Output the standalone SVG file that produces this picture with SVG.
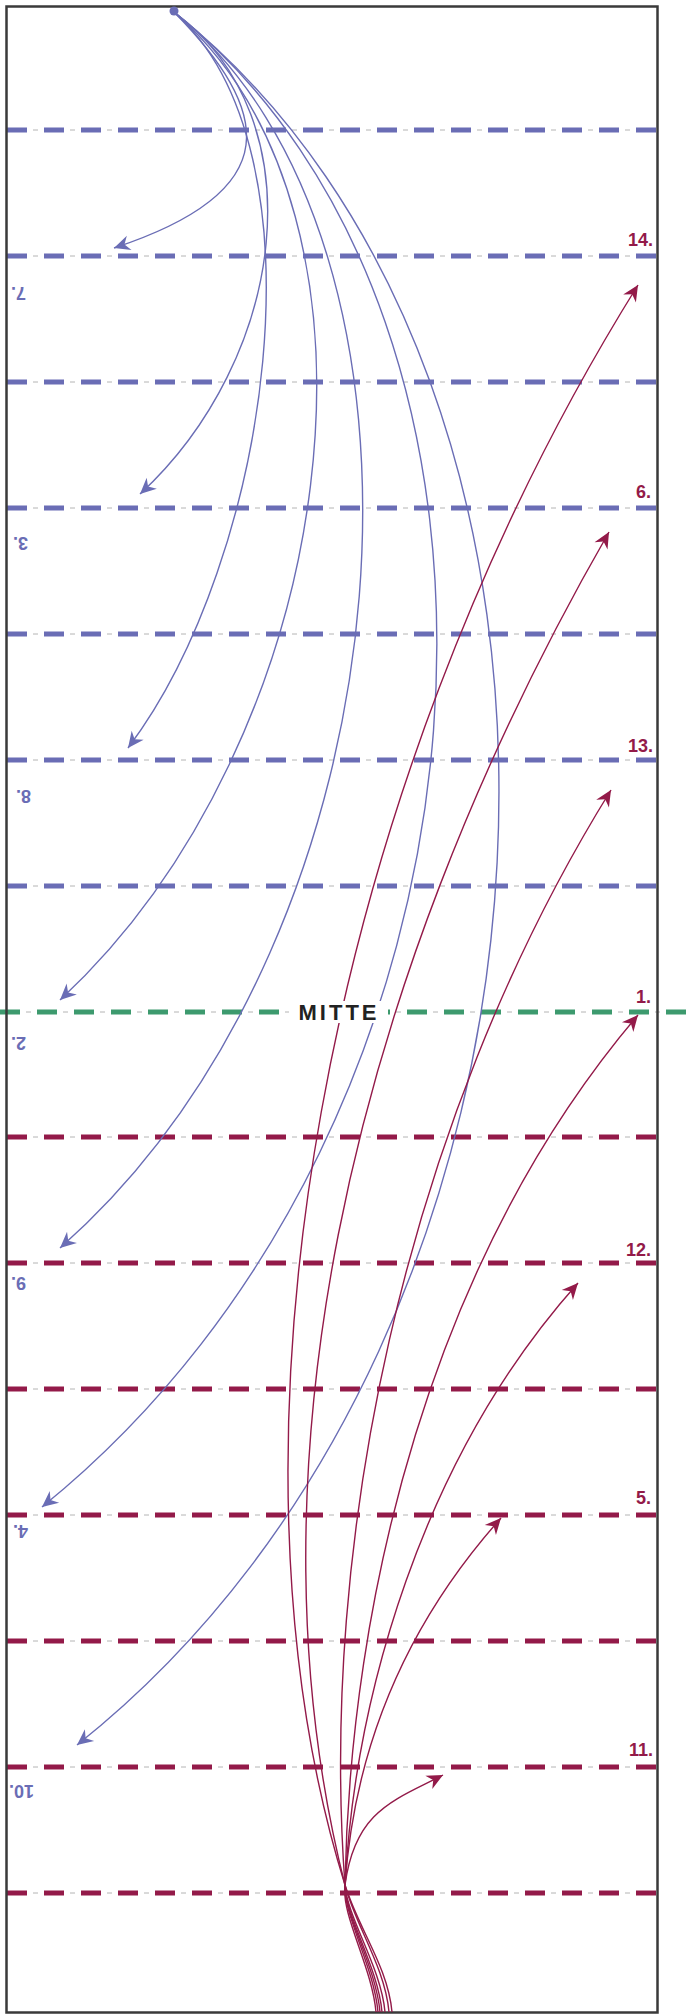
<svg xmlns="http://www.w3.org/2000/svg" width="692" height="2015" viewBox="0 0 692 2015">
<style>
.thin{stroke:#b4b4b4;stroke-width:1;stroke-dasharray:5 32;stroke-dashoffset:11;fill:none}
.db{stroke:#6a6db5;stroke-width:5;stroke-dasharray:20 17;fill:none}
.dr{stroke:#931a49;stroke-width:5;stroke-dasharray:20 17;fill:none}
.dg{stroke:#3d9a6e;stroke-width:5;stroke-dasharray:20 17;fill:none}
.cb{stroke:#6a6db5;stroke-width:1.4;fill:none;marker-end:url(#ab)}
.cr{stroke:#931a49;stroke-width:1.4;fill:none;marker-end:url(#ar)}
.lr{font-family:"Liberation Sans",Arial,sans-serif;font-weight:bold;font-size:18px;fill:#931a49;text-anchor:end}
.lb{font-family:"Liberation Sans",Arial,sans-serif;font-weight:bold;font-size:18px;fill:#6a6db5;text-anchor:end}
</style>
<defs>
<marker id="ab" viewBox="-17 -8 19 16" markerWidth="19" markerHeight="16" refX="0" refY="0" orient="auto" markerUnits="userSpaceOnUse"><path d="M0,0 L-16,-7.5 L-11,0 L-16,7.5 Z" fill="#6a6db5"/></marker>
<marker id="ar" viewBox="-17 -8 19 16" markerWidth="19" markerHeight="16" refX="0" refY="0" orient="auto" markerUnits="userSpaceOnUse"><path d="M0,0 L-16,-7.5 L-11,0 L-16,7.5 Z" fill="#931a49"/></marker>
</defs>
<rect x="0" y="0" width="692" height="2015" fill="#fff"/>
<g id="lines">
<path class="thin" d="M7,130H657M7,256H657M7,382H657M7,508H657M7,634H657M7,760H657M7,886H657M7,1137H657M7,1263H657M7,1389H657M7,1515H657M7,1641H657M7,1767H657M7,1893H657M0,1012H692"/>
<path class="db" d="M7,130H657M7,256H657M7,382H657M7,508H657M7,634H657M7,760H657M7,886H657"/>
<path class="dr" d="M7,1137H657M7,1263H657M7,1389H657M7,1515H657M7,1641H657M7,1767H657M7,1893H657"/>
<path class="dg" d="M0,1012H692"/>
</g>
<rect id="frame" x="6.5" y="6.5" width="651" height="2006" fill="none" stroke="#3a3a3a" stroke-width="2.5"/>
<g id="connectors">
<path class="cb" d="M174,12 C270,110 290,190 114,248"/>
<path class="cb" d="M174,12 C320,120 285,360 140,494"/>
<path class="cb" d="M174,12 C330,150 270,560 128,748"/>
<path class="cb" d="M174,12 C410,217 340,740 60,1000"/>
<path class="cb" d="M174,12 C460,240 420,930 60,1248"/>
<path class="cb" d="M174,12 C564,322 520,1120 42,1507"/>
<path class="cb" d="M174,12 C642,384 600,1330 77,1745"/>
<path class="cr" d="M392,2012 C388,1967 358.6,1928.8 345,1885 C209,1447 320,795 638,285"/>
<path class="cr" d="M389,2012 C385,1967 355.1,1924.8 345,1885 C244,1487 340,1000 609,532"/>
<path class="cr" d="M385,2012 C381,1967 347.5,1918.5 345,1885 C320,1550 400,1130 611,790"/>
<path class="cr" d="M382,2012 C378,1967 344.5,1913.5 345,1885 C350,1600 430,1260 638,1015"/>
<path class="cr" d="M380,2012 C376,1967 343.5,1912.75 345,1885 C355,1700 420,1460 578,1283"/>
<path class="cr" d="M378,2012 C374,1967 343,1914 345,1885 C355,1740 410,1620 501,1518"/>
<path class="cr" d="M376,2012 C372,1967 341,1915 345,1885 C355,1810 395,1800 443,1775"/>
</g>
<g id="start"><circle cx="174" cy="11" r="4.5" fill="#6a6db5"/></g>
<g id="mitte">
<rect x="289" y="1001" width="99" height="22" fill="#fff"/>
<text x="339" y="1020" font-family="Liberation Sans,Arial,sans-serif" font-weight="bold" font-size="22" letter-spacing="3" text-anchor="middle" fill="#222">MITTE</text>
</g>
<g id="labels-right">
<text class="lr" x="653" y="246">14.</text>
<text class="lr" x="651" y="498">6.</text>
<text class="lr" x="653" y="752">13.</text>
<text class="lr" x="651" y="1003">1.</text>
<text class="lr" x="651" y="1256">12.</text>
<text class="lr" x="651" y="1504">5.</text>
<text class="lr" x="653" y="1756">11.</text>
</g>
<g id="labels-left">
<text class="lb" transform="translate(11,287) rotate(180)">7.</text>
<text class="lb" transform="translate(13,537) rotate(180)">3.</text>
<text class="lb" transform="translate(16,790) rotate(180)">8.</text>
<text class="lb" transform="translate(11,1037) rotate(180)">2.</text>
<text class="lb" transform="translate(11,1277) rotate(180)">9.</text>
<text class="lb" transform="translate(13,1525) rotate(180)">4.</text>
<text class="lb" transform="translate(9,1785) rotate(180)">10.</text>
</g>
</svg>
